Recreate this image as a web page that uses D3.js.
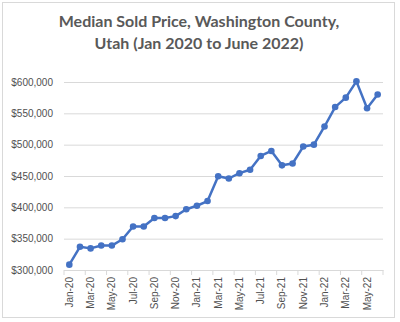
<!DOCTYPE html>
<html>
<head>
<meta charset="utf-8">
<script src="https://cdn.jsdelivr.net/npm/d3@7"></script>
<style>
  body { margin: 0; background: #fff; }
  svg { display: block; font-family: Lato, "Liberation Sans", Arial, sans-serif; }
</style>
</head>
<body>
<svg id="chart" width="400" height="322"></svg>
<script>
// months Jan-20 .. Jun-22
var months = ["Jan-20","Feb-20","Mar-20","Apr-20","May-20","Jun-20","Jul-20","Aug-20","Sep-20","Oct-20","Nov-20","Dec-20",
              "Jan-21","Feb-21","Mar-21","Apr-21","May-21","Jun-21","Jul-21","Aug-21","Sep-21","Oct-21","Nov-21","Dec-21",
              "Jan-22","Feb-22","Mar-22","Apr-22","May-22","Jun-22"];
var prices = [308500, 337000, 334500, 339000, 339000, 349000, 369500, 369500, 383000, 383000, 386000, 397000,
              402500, 410000, 449500, 446000, 454500, 460000, 482000, 490000, 467000, 470000, 497000, 500000,
              529000, 560000, 575000, 601000, 558000, 580000];
var yTicks = [300000, 350000, 400000, 450000, 500000, 550000, 600000];
var titleLines = ["Median Sold Price, Washington County,", "Utah (Jan 2020 to June 2022)"];

var svg = d3.select("#chart");
var grey = "#595959";

var margin = {top: 82, right: 17, bottom: 52, left: 64},
    width = 400 - margin.left - margin.right,
    height = 322 - margin.top - margin.bottom;

// chart border
svg.append("rect")
    .attr("x", 2.5).attr("y", 2.5)
    .attr("width", 392).attr("height", 315)
    .attr("fill", "none")
    .attr("stroke", "#d9d9d9");

svg.append("text")
    .attr("text-anchor", "middle")
    .attr("fill", grey)
    .style("font-weight", "bold")
    .style("font-size", "16px")
  .selectAll("tspan")
    .data(titleLines)
  .enter().append("tspan")
    .attr("x", 199)
    .attr("y", function(d, i) { return 27 + i * 22; })
    .text(function(d) { return d; });

var g = svg.append("g")
    .attr("transform", "translate(" + margin.left + "," + margin.top + ")");

var x = d3.scaleBand()
    .domain(months)
    .range([0, width]);

var y = d3.scaleLinear()
    .domain([300000, 600000])
    .range([height, 0]);

var format = d3.format("$,");

// gridlines + y labels
g.append("g")
    .call(d3.axisLeft(y).tickValues(yTicks).tickSize(-width).tickFormat(format).tickPadding(11))
    .call(function(s) {
      s.select(".domain").remove();
      s.selectAll(".tick line").attr("stroke", "#d9d9d9");
      s.selectAll(".tick text").attr("fill", "#505050").style("font-size", "10px");
    });

// x axis, label every other month
var xAxis = g.append("g")
    .attr("transform", "translate(0," + height + ")")
    .call(d3.axisBottom(x)
      .tickValues(months.filter(function(d, i) { return i % 2 === 0; }))
      .tickSize(0));
xAxis.select(".domain").attr("stroke", "#d9d9d9");
xAxis.selectAll(".tick text")
    .attr("fill", "#505050")
    .style("font-size", "10px")
    .attr("text-anchor", "end")
    .attr("transform", "rotate(-90)")
    .attr("x", -7)
    .attr("y", 0)
    .attr("dy", "0.35em");

// tick marks between every two months
var tickPos = d3.range(0, months.length + 1, 2).map(function(i) { return i * x.step(); });
g.append("g")
    .selectAll("line")
    .data(tickPos)
  .enter().append("line")
    .attr("x1", function(d) { return d; })
    .attr("x2", function(d) { return d; })
    .attr("y1", height)
    .attr("y2", height + 5)
    .attr("stroke", "#d9d9d9");

var line = d3.line()
    .x(function(d, i) { return x(months[i]) + x.bandwidth() / 2; })
    .y(function(d) { return y(d); });

g.append("path")
    .datum(prices)
    .attr("d", line)
    .attr("fill", "none")
    .attr("stroke", "#4472C4")
    .attr("stroke-width", 2.5)
    .attr("stroke-linejoin", "round");

g.selectAll("circle")
    .data(prices)
  .enter().append("circle")
    .attr("cx", function(d, i) { return x(months[i]) + x.bandwidth() / 2; })
    .attr("cy", function(d) { return y(d); })
    .attr("r", 3.3)
    .attr("fill", "#4472C4");
</script>
</body>
</html>
